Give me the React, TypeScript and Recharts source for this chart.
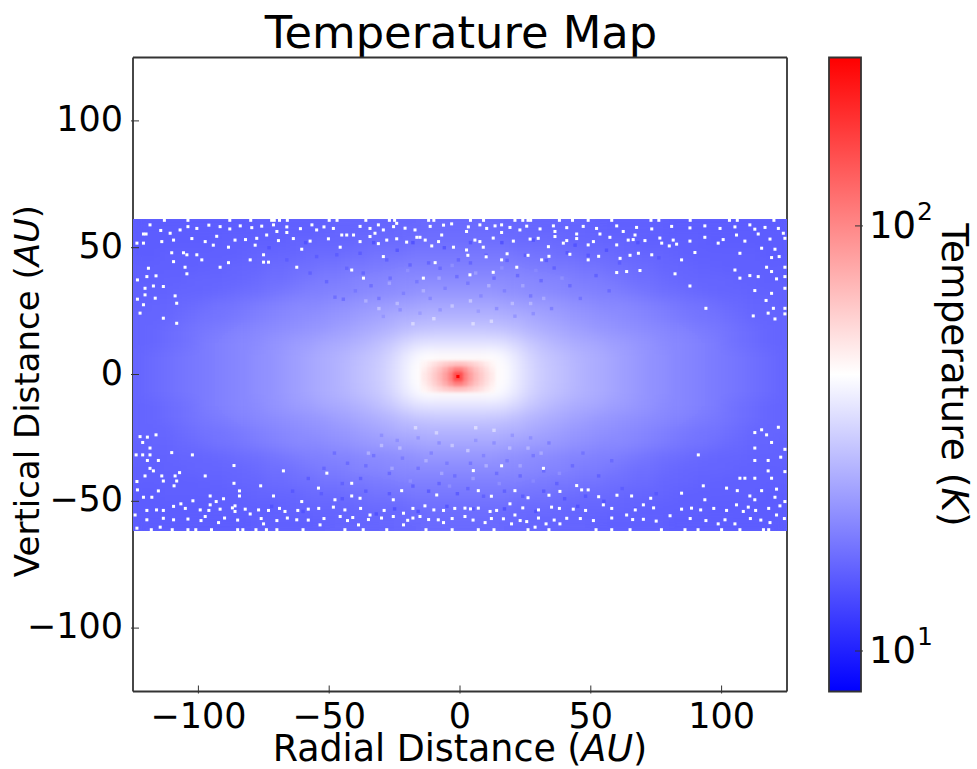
import { ScatterChart, Scatter, XAxis, YAxis, ReferenceArea } from 'recharts';

const WIDTH = 977;
const HEIGHT = 769;
const PLOT = { left: 133, right: 787, top: 57.5, bottom: 691.5 };
const BAR = { left: 829, right: 861 };
const FONT = 'DejaVu Sans, sans-serif';

const AXIS_TICKS = [-100, -50, 0, 50, 100];
const TEMP_TICKS = [10, 100];
const TEMP_MIN = 8.03;
const TEMP_MAX = 249;

// temperature (K), one quadrant: rows are |y|, columns |x| (AU)
const FIELD_X = [2.5, 7.5, 12.5, 17.5, 22.5, 27.5, 32.5, 37.5, 42.5, 47.5, 52.5, 57.5, 62.5, 67.5, 72.5, 77.5, 82.5, 87.5, 92.5, 97.5, 102.5, 107.5, 112.5, 117.5, 122.5];
const FIELD_Y = [2.5, 7.5, 12.5, 17.5, 22.5, 27.5, 32.5, 37.5, 42.5, 47.5, 52.5, 57.5];
const FIELD_T = [
  [48, 48, 47, 44, 38, 34, 31, 29.5, 28, 26.5, 25.5, 24.5, 23.5, 22.5, 21.5, 21, 20, 19.5, 19, 18.5, 18, 17.5, 17, 16.5, 16],
  [46, 46, 45, 42, 37, 33, 30.5, 29, 27.5, 26.5, 25.5, 24.5, 23.5, 22.5, 21.5, 21, 20, 19.5, 19, 18.5, 18, 17.5, 17, 16.5, 16],
  [37, 37, 37, 36, 33, 30.5, 28.5, 27, 26, 25, 24.5, 23.5, 23, 22, 21.5, 20.5, 20, 19.5, 19, 18.5, 17.5, 17, 16.5, 16, 15.8],
  [31, 31, 30.5, 30, 28.5, 27, 26, 25, 24, 23.5, 22.5, 22, 21.5, 21, 20.5, 20, 19.5, 19, 18.5, 18, 17.5, 17, 16.5, 16, 15.8],
  [27, 27, 27, 26.5, 26, 25, 24, 23.5, 22.5, 22, 21.5, 21, 20.5, 20, 19.5, 19, 18.5, 18, 17.5, 17.5, 17, 16.5, 16, 15.8, 15.8],
  [24.5, 24.5, 24.5, 24, 23.5, 23, 22.5, 22, 21.5, 21, 20.5, 20, 20, 19.5, 19, 18.5, 18, 17.5, 17.5, 17, 16.5, 16.2, 15.8, 15.8, 15.5],
  [22, 22, 22, 21.5, 21, 20.5, 20.5, 20, 19.5, 19.5, 19, 19, 18.5, 18, 17.5, 17, 16.8, 16.5, 16.2, 16, 15.8, 15.8, 15.5, 15.5, 15.5],
  [20.5, 20.5, 20.5, 20.5, 20, 20, 19.5, 19.5, 19, 18.5, 18.5, 18, 17.5, 17, 17, 16.5, 16.2, 16, 16, 15.8, 15.8, 15.5, 15.5, 15.3, 15.3],
  [19, 19, 19, 19, 19, 18.5, 18.5, 18, 18, 17.5, 17.5, 17, 17, 16.5, 16.5, 16, 16, 15.8, 15.5, 15.5, 15.3, 15.3, 15.3, 15.3, 15.3],
  [18, 18, 18, 18, 17.5, 17.5, 17.5, 17, 17, 16.5, 16.5, 16.5, 16, 16, 15.8, 15.8, 15.5, 15.3, 15.3, 15.3, 15.3, 15.3, 15.3, 15, 15],
  [17, 17, 17, 17, 16.5, 16.5, 16.5, 16.5, 16, 16, 16, 15.8, 15.8, 15.5, 15.3, 15.3, 15.3, 15.3, 15.3, 15, 15, 15, 15, 15, 15],
  [16.5, 16.5, 16.5, 16.2, 16.2, 16, 16, 15.8, 15.8, 15.8, 15.5, 15.3, 15.3, 15.3, 15.3, 15.3, 15, 15, 15, 15, 15, 15, 15, 15, 15],
];

// hot central block, offset from (0,0) a little in the picture
const CORE_CENTRE = -0.8;
const CORE_X = [1, 3, 5, 7, 9, 11, 13];
const CORE_Y = [1, 3, 5];
const CORE_T = [
  [150, 105, 86, 72, 64, 57, 52],
  [105, 92, 78, 68, 61, 55, 50],
  [68, 66, 63, 59, 55, 51, 48],
];
const PEAK = [{ x: -0.8, y: -0.8, t: 249 }];

// darker and paler specks in the mottled part of the band: x, y, temperature
const SPECKS_TOP_LEFT = [
  [-47.8, 30.5, 17], [-44.6, 29.7, 17], [-51, 36.6, 16], [-37, 40, 16], [-31, 30, 18], [-26.7, 38, 17], [-21.6, 32, 19], [-16.5, 36.6, 18], [-11.4, 30, 20], [-5.7, 34, 19], [-1.2, 38.6, 17], [-43.3, 41.9, 16], [-57.3, 40, 15.5], [-66.2, 45.2, 15], [-54.8, 46.5, 15], [-47.1, 47.2, 15], [-38.2, 47.8, 15], [-28, 45.2, 15.5], [-19.1, 43.2, 16], [-7.6, 41.9, 16.5], [-0.6, 45.2, 16], [-22.9, 25.5, 21], [-15.3, 24.2, 23], [-7.6, 25.5, 22], [-29.3, 22.9, 22], [-34, 35, 17], [-40, 33, 18], [-12, 44, 16], [-24, 49, 14.5], [-33, 52, 14], [-18, 52, 14], [-6, 50, 14.5], [-59, 52, 14], [-73, 50, 14], [-24, 28, 28], [-18, 20, 34], [-10, 22, 34], [-3, 27, 30], [-31, 26, 29], [-14, 33, 26], [-27, 36, 24], [-8, 38, 24], [-36, 29, 26], [-20, 41, 21], [-3, 43, 21],
];
const SPECKS_TOP_RIGHT = [
  [3, 36, 18], [8, 31, 20], [13, 38, 17], [17, 33, 19], [22, 39, 16.5], [27, 31, 18], [31, 37, 16.5], [36, 42, 15.5], [42, 35, 16.5], [46, 30, 17.5], [52, 39, 15.5], [57, 33, 16.5], [61, 44, 15], [4, 44, 16], [10, 47, 15.5], [18, 45, 15.5], [25, 47, 15], [33, 45, 15], [41, 48, 14.5], [49, 47, 14.5], [56, 49, 14], [7, 25, 23], [14, 26, 21], [21, 23, 22], [28, 24, 21], [35, 26, 19], [4, 52, 14.5], [16, 52, 14], [28, 53, 14], [44, 51, 14], [68, 52, 14], [76, 46, 14.5], [5, 20, 35], [12, 21, 34], [20, 28, 28], [27, 28, 27], [4, 29, 30], [11, 35, 26], [24, 35, 24], [32, 30, 25], [16, 42, 21], [29, 41, 20], [6, 40, 23], [39, 38, 21],
];
const SPECKS_BOTTOM_LEFT = [
  [-48, -31, 17], [-43, -35, 16.5], [-52, -37, 16], [-38, -41, 15.5], [-33, -32, 17.5], [-27, -39, 16.5], [-22, -33, 18.5], [-16, -37, 17.5], [-11, -31, 19.5], [-5, -35, 18.5], [-2, -40, 17], [-45, -43, 15.5], [-58, -41, 15], [-64, -46, 14.5], [-53, -47, 15], [-45, -49, 14.5], [-36, -46, 15], [-27, -47, 15], [-18, -44, 15.5], [-8, -43, 16], [-1, -47, 15], [-24, -26, 21], [-16, -25, 22], [-8, -27, 21], [-30, -24, 21], [-36, -36, 17], [-12, -46, 15], [-25, -53, 14], [-32, -55, 14], [-16, -54, 14], [-5, -52, 14.5], [-60, -54, 14], [-72, -52, 14], [-23, -29, 28], [-17, -21, 34], [-9, -23, 33], [-3, -28, 30], [-30, -28, 28], [-13, -34, 26], [-26, -37, 24], [-7, -39, 24], [-35, -31, 26], [-19, -42, 21], [-4, -44, 21],
];
const SPECKS_BOTTOM_RIGHT = [
  [4, -35, 18], [9, -32, 19.5], [14, -39, 17], [18, -34, 18.5], [23, -40, 16.5], [28, -32, 18], [32, -38, 16.5], [37, -43, 15.5], [43, -36, 16.5], [47, -31, 17.5], [53, -40, 15.5], [58, -34, 16.5], [62, -45, 15], [3, -45, 16], [9, -48, 15.5], [17, -46, 15.5], [24, -48, 15], [32, -46, 15], [40, -49, 14.5], [48, -48, 14.5], [55, -50, 14], [6, -26, 22], [13, -27, 21], [20, -24, 22], [27, -25, 21], [34, -27, 19], [5, -53, 14.5], [17, -53, 14], [29, -54, 14], [45, -52, 14], [67, -53, 14], [75, -47, 14.5], [6, -21, 35], [13, -22, 34], [19, -29, 28], [26, -29, 27], [3, -30, 30], [10, -36, 26], [23, -36, 24], [31, -31, 25], [15, -43, 21], [28, -42, 20], [5, -41, 23], [38, -39, 21],
];

// white gaps in the outer band
const GAPS_TOP_LEFT = [
  [-118.5, 59], [-121, 55.4], [-120, 55.4], [-114.4, 56.8], [-107, 57], [-110.8, 55.7], [-114, 52.4], [-121, 51.8], [-123.5, 51.8], [-97.4, 52.4], [-94.3, 51], [-88.5, 50.2], [-86, 53], [-77.7, 53.7], [-78.3, 51], [-73.9, 55], [-66.2, 56], [-70, 56.4], [-60.5, 49.4], [-54.8, 57], [-45.2, 55], [-43.3, 55], [-45.8, 50.2], [-40.7, 55], [-34.4, 54.4], [-32.5, 55.7], [-28, 53], [-16.5, 54.1], [-15.3, 54.1], [-17.2, 57], [-7, 55], [-3.2, 59.4], [-10.8, 50.7], [-2.5, 50.2], [-24.2, 59.6], [-31.2, 59], [-109.5, 44.5], [-110.2, 48], [-105.7, 48], [-104.4, 47.2], [-100.6, 47.2], [-98.7, 45.2], [-88.5, 44.1], [-80.2, 45.2], [-75.1, 44.3], [-73.2, 44.3], [-75.1, 47.2], [-91.7, 42.3], [-105.1, 42.3], [-104.4, 39.7], [-119.1, 41.9], [-119.7, 38.6], [-116.2, 38.9], [-123.3, 37.3], [-113.4, 34.7], [-117.2, 34.9], [-120.4, 34], [-108.9, 31], [-108.3, 28.1], [-116.5, 30.1], [-120.4, 31.4], [-123.3, 29.7], [-121, 27.5], [-113.4, 22.2], [-122.3, 24.2], [-108.3, 20.2], [-41.4, 41.2], [-62.4, 42.3], [-36.9, 38], [-29.3, 46.5], [-9.5, 44.1], [-14, 38],
  [-104, 58.3], [-100.6, 57.6], [-96, 58.9], [-91.7, 58.3], [-88, 57.4], [-84, 58.6], [-79.6, 57.9], [-75.8, 58.5], [-71.3, 59], [-66.2, 58.2], [-61, 57.5], [-56.6, 59], [-52, 58.2], [-48.4, 57.6], [-38.2, 58.4], [-34.4, 57.6], [-29.3, 57], [-25.4, 58.3], [-21, 57.7], [-11.4, 58.4], [-6.3, 58.9],
  [-109.5, 53], [-102.5, 53.6], [-93, 54.5], [-82, 53.2], [-69.4, 52.8], [-63.7, 53.6], [-57.3, 52.6], [-50.3, 53.5], [-38.2, 52.4], [-31.2, 51.6], [-24.2, 53.5], [-20.4, 52.2], [-13.3, 53], [-8.2, 52.4],
];
const GAPS_TOP_RIGHT = [
  [7.6, 59], [15.9, 59], [15.9, 56], [2.5, 56.4], [22.9, 57], [29.9, 53.7], [36.3, 56.4], [36.3, 54.4], [44.6, 55.4], [53.5, 55.4], [57.3, 54.1], [62.4, 56.4], [66.9, 55], [64.3, 53], [70.7, 52.8], [77.1, 51.8], [80, 50.7], [82.8, 51.4], [93.6, 54.1], [98.7, 51.8], [105.7, 55], [112.7, 57.3], [114, 55.4], [123.6, 55.7], [115.3, 49.8], [120.4, 49.4], [124.2, 53.7], [7.6, 52.4], [8.9, 50.2], [2.5, 49.1], [33.8, 50.4], [39.5, 51.8], [49, 51.1], [59.9, 51.1], [68.2, 47.8], [73.3, 47.2], [89.8, 48.1], [107, 47.8], [119.1, 46.1], [122, 46.5], [15.9, 45.2], [31.2, 45.2], [49, 45.2], [61.2, 45.8], [84.7, 45.2], [59.9, 40.2], [63.7, 40.6], [68.8, 41], [82.2, 39.7], [105.1, 41.2], [117.2, 42.3], [119.1, 40.6], [114, 38.6], [107, 38], [110.8, 39], [124.2, 42.3], [124.2, 38.6], [121, 37.7], [87.9, 34.9], [112.7, 33.1], [119.1, 32], [117, 29.2], [124.2, 34], [94, 26.1], [119.8, 26.1], [124.2, 26.1], [124.2, 23.9], [117.8, 24.2], [112.1, 23.1], [120.4, 21.9], [3.8, 39.3], [12.7, 40.3], [21.7, 42.3],
  [3.2, 58.2], [10.2, 57.6], [13.4, 58.6], [19.1, 58], [25.5, 58.5], [30.6, 57.4], [35.7, 58.6], [40.8, 57.9], [47.1, 58.4], [52.2, 57.6], [59.9, 58.6], [67.5, 58], [73.3, 57.4], [80.9, 58.4], [87.9, 57.8], [93.6, 58.6], [99.4, 57.6], [105.1, 58.2], [110.8, 59], [116.6, 58], [121.7, 57.6],
  [5.7, 53], [12.7, 53.8], [20.4, 52.6], [26.8, 53.4], [40.8, 52.8], [44.6, 53.6], [51, 52.4], [66.2, 53.2], [76.4, 53.8], [81.5, 53], [87.9, 52.6], [100.6, 53.2], [108.9, 52.6], [118.5, 53.4],
  [3, 47], [10, 46.4], [18, 47.6], [26, 47], [34, 46.6], [42, 47.4], [53, 46.6], [65, 47],
];
const GAPS_BOTTOM_LEFT = [
  [-122.3, -24.5], [-119.5, -24.7], [-116.2, -23.8], [-121.3, -26.8], [-118.5, -29], [-123.8, -31.7], [-121.3, -31.7], [-118.5, -31.7], [-110.2, -30.8], [-102.3, -31.7], [-119.5, -33.9], [-115.3, -33.9], [-86.4, -35.9], [-118.5, -37], [-117.2, -38], [-107.2, -38.7], [-108.9, -40], [-114, -40], [-120.4, -40], [-97.4, -40], [-67.5, -38], [-50.9, -38.9], [-113.4, -42], [-108.3, -42], [-123.5, -42.2], [-86.4, -42.9], [-109.3, -43.9], [-76.2, -43.9], [-123.3, -45.5], [-115.3, -45.9], [-84.3, -45.9], [-54.1, -44.8], [-41.4, -42.9], [-121, -48.4], [-117.8, -48.4], [-95.5, -47.9], [-71.3, -47.9], [-84.3, -47.9], [-41.4, -47.9], [-22.3, -45.8], [-8.9, -47.5], [-106.7, -51], [-102.1, -49.8], [-93.2, -50.1], [-90.4, -49], [-109.5, -52], [-95.5, -51.4], [-86, -51.8], [-60.5, -50.1], [-47.8, -49.4], [-38.2, -48.8], [-25.5, -49.4], [-119.7, -53.6], [-113.4, -53.6], [-99.3, -53.4], [-91.7, -53.1], [-82.1, -53.1], [-73.2, -53.6], [-58, -53.1], [-48.4, -52.3], [-13.4, -51.8], [-6.3, -53.6], [-124.2, -55.4], [-86, -54], [-66.9, -54], [-34.4, -55.4], [-21.6, -54.7], [-119.7, -57.3], [-113.4, -56.7], [-109.5, -57.3], [-97.4, -56], [-80.2, -55], [-62.4, -57.3], [-45.8, -56], [-25.5, -56], [-15.3, -56], [-8.3, -57.3], [-114.6, -60.2], [-123.5, -60.6], [-92.3, -58.4], [-75.1, -58.9], [-53.5, -59.3], [-38.8, -59.3], [-6.3, -58.4], [-21.6, -59.3],
  [-104, -57], [-99, -57.6], [-90, -56.6], [-85, -57.4], [-76, -56.8], [-70, -57.6], [-66, -56.6], [-58, -57.4], [-52, -56.8], [-43, -57.6], [-41, -56.4], [-35, -57.2], [-30, -56.6], [-20, -57.5], [-18, -56.6], [-12, -57.2], [-3, -56.8],
  [-116, -53.4], [-105, -52.8], [-96, -53.6], [-87, -52.6], [-77, -53.4], [-69, -52.8], [-62, -53.6], [-54, -52.8], [-44, -53.4], [-38, -52.8], [-29, -53.6], [-18, -52.8], [-10, -53.4], [-2, -52.8],
];
const GAPS_BOTTOM_RIGHT = [
  [121.7, -20.8], [112.7, -22.9], [115.3, -21.8], [117.2, -23.8], [119.1, -26.8], [112.7, -29], [124.2, -29.5], [122.6, -32.6], [91.1, -31.7], [112.7, -33.9], [117.8, -33.9], [117.8, -38], [124.2, -38.3], [107, -40.9], [108.9, -40.9], [112.7, -40.9], [119.1, -40.9], [93, -43.9], [101.9, -44.8], [106, -45.8], [115.3, -45.8], [121, -45.2], [110.8, -47.9], [120.4, -48.4], [84.7, -46.8], [65.6, -47.9], [72.9, -48.8], [93.6, -49.4], [112.7, -49.4], [124.2, -50.1], [38.2, -46.1], [46.5, -45.5], [49, -45.5], [44.6, -43.8], [5.1, -37.9], [15.9, -36], [31.9, -37], [21, -45.8], [7, -45.8], [54.8, -51.4], [70.1, -51.4], [84.7, -53.1], [88.5, -52.7], [110.2, -52.3], [122.3, -51.8], [7, -52.7], [1.9, -52.7], [19.1, -51], [11.5, -54], [35, -52.3], [43.3, -53.1], [63.7, -55.4], [80.3, -55.7], [105.7, -51.4], [101.9, -53.6], [108.3, -54], [121, -55.4], [1.9, -56], [16.6, -56.9], [25.5, -58], [21, -55.4], [40.8, -56.7], [70.1, -57.1], [101.3, -57.3], [118.5, -58.4], [9.6, -58.4], [32.9, -58.9], [19.7, -58.9], [98.7, -58.9], [105.1, -58.9], [28.7, -60.2], [38.2, -58.9],
  [5, -57.4], [12, -56.8], [23, -57.6], [30, -56.6], [36, -57.4], [46, -56.8], [51, -57.6], [58, -56.6], [66, -57.2], [75, -57.8], [88, -56.8], [94, -57.6], [111, -56.8], [115, -57.4], [124, -56.8],
  [4, -53], [14, -53.6], [24, -52.6], [30, -53.4], [38, -52.8], [48, -53.6], [58, -52.8], [67, -53.4], [74, -52.6], [92, -53.4], [97, -52.8], [113, -53.6], [118, -52.8],
  [12, -48], [26, -48.6], [34, -47.6], [53, -48.2], [60, -47.6],
];
// notches along the jagged top and bottom edges of the band
const NOTCH_TOP_X = [-113, -104, -88, -80, -72, -71, -69, -66, -50, -47, -36, -27, -25, -12, -10, 4, 9, 21, 24, 26, 27, 38, 43, 49, 58, 73, 76, 88, 103, 106, 120];
const NOTCH_BOTTOM_X = [-118, -110, -104, -101, -95, -85, -83, -78, -74, -70, -60, -44, -37, -28, -13, -3, 7, 13, 26, 34, 52, 58, 65, 77, 86, 91, 100, 107, 116, 118];
const NOTCH_TOP_Y = 60.8;
const NOTCH_BOTTOM_Y = -61.2;

const PX_PER_AU = (PLOT.right - PLOT.left) / 250;
const yPx = (au: number) => (PLOT.top + PLOT.bottom) / 2 - (au * (PLOT.bottom - PLOT.top)) / 250;

// matplotlib bwr on a log norm
function tempColor(t: number) {
  const f = (Math.log10(t) - Math.log10(TEMP_MIN)) / (Math.log10(TEMP_MAX) - Math.log10(TEMP_MIN));
  const c = Math.max(0, Math.min(1, f));
  if (c < 0.5) {
    const v = Math.round(c * 2 * 255);
    return `rgb(${v},${v},255)`;
  }
  const v = Math.round((1 - c) * 2 * 255);
  return `rgb(255,${v},${v})`;
}

const fieldData = FIELD_Y.flatMap((y, r) =>
  FIELD_X.flatMap((x, c) =>
    [[-1, 1], [1, 1], [-1, -1], [1, -1]].map(([sx, sy]) => ({ x: sx * x, y: sy * y, t: FIELD_T[r][c] })),
  ),
);
const coreData = CORE_Y.flatMap((y, r) =>
  CORE_X.flatMap((x, c) =>
    [[-1, 1], [1, 1], [-1, -1], [1, -1]].map(([sx, sy]) => ({
      x: CORE_CENTRE + sx * x,
      y: CORE_CENTRE + sy * y,
      t: CORE_T[r][c],
    })),
  ),
);
const speckData = [...SPECKS_TOP_LEFT, ...SPECKS_TOP_RIGHT, ...SPECKS_BOTTOM_LEFT, ...SPECKS_BOTTOM_RIGHT].map(([x, y, t]) => ({ x, y, t }));
const gapData = [...GAPS_TOP_LEFT, ...GAPS_TOP_RIGHT, ...GAPS_BOTTOM_LEFT, ...GAPS_BOTTOM_RIGHT]
  .map(([x, y]) => ({ x, y }))
  .concat(NOTCH_TOP_X.map((x) => ({ x, y: NOTCH_TOP_Y })))
  .concat(NOTCH_BOTTOM_X.map((x) => ({ x, y: NOTCH_BOTTOM_Y })));
const barTickData = TEMP_TICKS.map((y) => ({ x: 0.5, y }));

function cell(size: number, fixedFill?: string) {
  return (p: any) => {
    const w = size * PX_PER_AU;
    return (
      <rect
        x={p.cx - w / 2}
        y={p.cy - w / 2}
        width={w}
        height={w}
        fill={fixedFill ?? tempColor(p.payload.t)}
      />
    );
  };
}

const LABEL = { fontFamily: FONT, fill: '#000' };
const TICK_STROKE = '#333';
const minusLabel = (v: number) => (v < 0 ? `\u2212${-v}` : `${v}`);

const BottomTick = ({ x, y, payload }: any) => (
  <g>
    <line x1={x} y1={y} x2={x} y2={y - 8} stroke={TICK_STROKE} />
    <text x={x} y={728} textAnchor="middle" fontSize={35} {...LABEL}>{minusLabel(payload.value)}</text>
  </g>
);
const TopTick = ({ x, y }: any) => <line x1={x} y1={y} x2={x} y2={y + 8} stroke={TICK_STROKE} />;
const LeftTick = ({ x, y, payload }: any) => (
  <g>
    <line x1={x} y1={y} x2={x + 8} y2={y} stroke={TICK_STROKE} />
    <text x={123} y={y + 10} textAnchor="end" fontSize={35} {...LABEL}>{minusLabel(payload.value)}</text>
  </g>
);
const RightTick = ({ x, y }: any) => <line x1={x} y1={y} x2={x - 8} y2={y} stroke={TICK_STROKE} />;
const BarTick = ({ x, y, payload }: any) => (
  <g>
    <line x1={x} y1={y} x2={x - 8} y2={y} stroke={TICK_STROKE} />
    <text x={869} y={y + 12} fontSize={37} {...LABEL}>
      10
      <tspan dx={1} dy={-18} fontSize={25}>{Math.round(Math.log10(payload.value))}</tspan>
    </text>
  </g>
);

const AXIS_LINE = { stroke: '#333', strokeWidth: 1.8 };
const AXIS_SIZE = 1;

export default function App() {
  return (
    <div style={{ position: 'relative', width: WIDTH, height: HEIGHT }}>
      <style>{`
        body { margin: 0; }
        .field-layer { filter: url(#fieldBlur); clip-path: url(#bandClip); }
        .core-layer { filter: url(#coreBlur); }
      `}</style>
      <div style={{ position: 'absolute', left: 0, top: 0 }}>
        <ScatterChart
          width={WIDTH}
          height={HEIGHT}
          margin={{
            top: PLOT.top - AXIS_SIZE,
            left: PLOT.left - AXIS_SIZE,
            right: WIDTH - PLOT.right - AXIS_SIZE,
            bottom: HEIGHT - PLOT.bottom - AXIS_SIZE,
          }}
        >
          <defs>
            <filter id="fieldBlur" filterUnits="userSpaceOnUse" x={0} y={0} width={WIDTH} height={HEIGHT} colorInterpolationFilters="sRGB">
              <feGaussianBlur stdDeviation={6} />
              <feComponentTransfer>
                <feFuncA type="linear" slope={1000} />
              </feComponentTransfer>
            </filter>
            <filter id="coreBlur" filterUnits="userSpaceOnUse" x={0} y={0} width={WIDTH} height={HEIGHT} colorInterpolationFilters="sRGB">
              <feGaussianBlur stdDeviation={1.6} />
            </filter>
            <clipPath id="bandClip">
              <rect x={PLOT.left} y={yPx(61.3)} width={PLOT.right - PLOT.left} height={yPx(-61.7) - yPx(61.3)} />
            </clipPath>
          </defs>
          <Scatter className="field-layer" data={fieldData} shape={cell(5.2)} isAnimationActive={false} />
          <Scatter data={speckData} shape={cell(1.3)} isAnimationActive={false} />
          <Scatter className="core-layer" data={coreData} shape={cell(2.1)} isAnimationActive={false} />
          <Scatter data={PEAK} shape={cell(1.2)} isAnimationActive={false} />
          <Scatter data={gapData} shape={cell(1.15, '#fff')} isAnimationActive={false} />
          <XAxis type="number" dataKey="x" domain={[-125, 125]} ticks={AXIS_TICKS} height={AXIS_SIZE} tickSize={0} tickLine={false} interval={0} axisLine={AXIS_LINE} tick={<BottomTick />} />
          <XAxis xAxisId="top" orientation="top" type="number" domain={[-125, 125]} ticks={AXIS_TICKS} height={AXIS_SIZE} tickSize={0} tickLine={false} interval={0} axisLine={AXIS_LINE} tick={<TopTick />} />
          <YAxis type="number" dataKey="y" domain={[-125, 125]} ticks={AXIS_TICKS} width={AXIS_SIZE} tickSize={0} tickLine={false} interval={0} axisLine={AXIS_LINE} tick={<LeftTick />} />
          <YAxis yAxisId="right" orientation="right" type="number" domain={[-125, 125]} ticks={AXIS_TICKS} width={AXIS_SIZE} tickSize={0} tickLine={false} interval={0} axisLine={AXIS_LINE} tick={<RightTick />} />
          <text x={461} y={48} textAnchor="middle" fontSize={44.8} {...LABEL}>Temperature Map</text>
          <text x={460} y={761} textAnchor="middle" fontSize={36.4} {...LABEL}>
            Radial Distance (<tspan fontStyle="italic">AU</tspan>)
          </text>
          <text x={0} y={0} transform="translate(39 391) rotate(-90)" textAnchor="middle" fontSize={34} {...LABEL}>
            Vertical Distance (<tspan fontStyle="italic">AU</tspan>)
          </text>
          <text x={0} y={0} transform="translate(942 375) rotate(90)" textAnchor="middle" fontSize={37.5} {...LABEL}>
            Temperature (<tspan fontStyle="italic">K</tspan>)
          </text>
        </ScatterChart>
      </div>
      <div style={{ position: 'absolute', left: 0, top: 0 }}>
        <ScatterChart
          width={WIDTH}
          height={HEIGHT}
          margin={{ top: PLOT.top, left: BAR.left, right: WIDTH - BAR.right - AXIS_SIZE, bottom: HEIGHT - PLOT.bottom }}
        >
          <defs>
            <linearGradient id="bwr" x1="0" y1="0" x2="0" y2="1">
              <stop offset="0%" stopColor="#ff0000" />
              <stop offset="50%" stopColor="#ffffff" />
              <stop offset="100%" stopColor="#0000ff" />
            </linearGradient>
          </defs>
          <XAxis type="number" dataKey="x" domain={[0, 1]} hide />
          <YAxis orientation="right" type="number" dataKey="y" scale="log" domain={[TEMP_MIN, TEMP_MAX]} allowDataOverflow ticks={TEMP_TICKS} width={AXIS_SIZE} tickSize={0} tickLine={false} interval={0} axisLine={false} tick={<BarTick />} />
          <ReferenceArea x1={0} x2={1} y1={TEMP_MIN} y2={TEMP_MAX} fill="url(#bwr)" fillOpacity={1} stroke="#333" strokeWidth={1.8} />
          <Scatter data={barTickData} shape={() => <g />} isAnimationActive={false} />
        </ScatterChart>
      </div>
    </div>
  );
}
